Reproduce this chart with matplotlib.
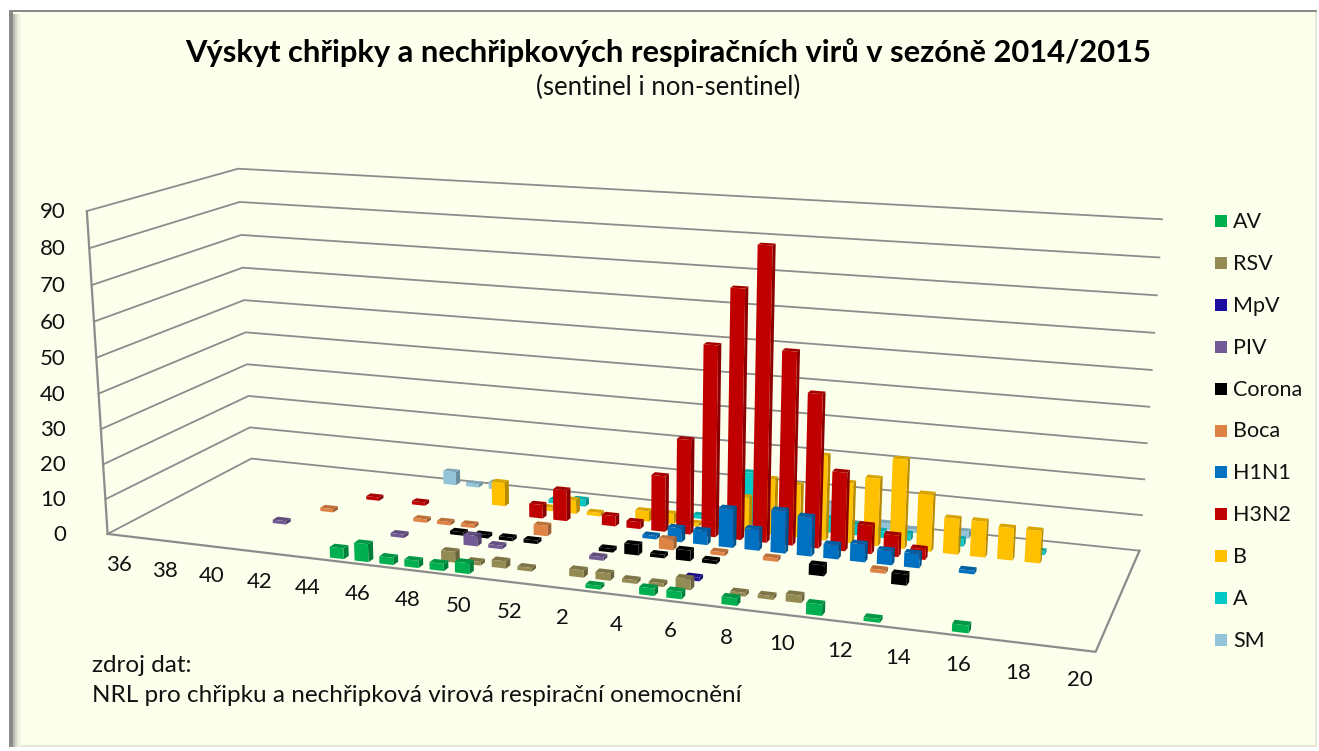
import numpy as np
import matplotlib
matplotlib.use('Agg')
import matplotlib.pyplot as plt
from matplotlib.patches import Rectangle

W, H = 1319, 751

week_labels = ['36', '38', '40', '42', '44', '46', '48', '50', '52', '2', '4', '6', '8', '10', '12', '14', '16', '18', '20']
z_ticks = [0, 10, 20, 30, 40, 50, 60, 70, 80, 90]
series_names = ['AV', 'RSV', 'MpV', 'PIV', 'Corona', 'Boca', 'H1N1', 'H3N2', 'B', 'A', 'SM']
series_colors = ['#00B050', '#948A54', '#1F0FA0', '#725A94', '#000000', '#DE8344', '#0070C0', '#C00000', '#FFC000', '#06C8C4', '#93C3D9']

# index of the week on the axis (0 = week 36, 17 = week 1) -> number of cases
av = {9: 3, 10: 5, 11: 2, 12: 2, 13: 2, 14: 3, 19: 1, 21: 2, 22: 2, 24: 2, 27: 3, 29: 1, 32: 2}
rsv = {13: 3, 14: 1, 15: 2, 16: 1, 18: 2, 19: 2, 20: 1, 21: 1, 22: 3, 24: 1, 25: 1, 26: 2}
mpv = {22: 1}
piv = {5: 1, 10: 1, 13: 3, 14: 1, 18: 1}
corona = {12: 1, 13: 1, 14: 1, 15: 1, 18: 1, 19: 3, 20: 1, 21: 3, 22: 1, 26: 3, 29: 3}
boca = {6: 1, 10: 1, 11: 1, 12: 1, 15: 3, 20: 3, 22: 1, 24: 1, 28: 1}
h1n1 = {19: 1, 20: 4, 21: 4, 22: 11, 23: 6, 24: 12, 25: 11, 26: 4, 27: 5, 28: 4, 29: 4, 31: 1}
h3n2 = {7: 1, 9: 1, 14: 4, 15: 9, 17: 3, 18: 2, 19: 16, 20: 27, 21: 54, 22: 70, 23: 82, 24: 54, 25: 43, 26: 22, 27: 8, 28: 6, 29: 3}
b = {12: 7, 14: 1, 15: 4, 16: 1, 18: 3, 19: 3, 20: 1, 21: 1, 22: 10, 23: 16, 24: 15, 25: 24, 26: 17, 27: 19, 28: 25, 29: 16, 30: 10, 31: 10, 32: 9, 33: 9}
a = {14: 1, 15: 2, 20: 1, 22: 15, 25: 4, 26: 3, 27: 2, 28: 2, 30: 2, 33: 1}
sm = {9: 4, 10: 1, 11: 2, 25: 6, 27: 2, 28: 1, 30: 2}
all_series = [av, rsv, mpv, piv, corona, boca, h1n1, h3n2, b, a, sm]

n_weeks = 37
n_series = 11
z_max = 90
BG = '#FBFFEB'
GRID = '#8C8C8C'


def fit_camera():
    # 3D box corners -> where they sit in the picture, in pixels
    pairs = [((0, 0, 0), (108, 533)), ((n_weeks, 0, 0), (1095, 654)),
             ((0, n_series, 0), (251, 460)), ((n_weeks, n_series, 0), (1140, 548)),
             ((0, 0, z_max), (87, 210)), ((0, n_series, z_max), (238, 169)),
             ((n_weeks, n_series, z_max), (1162, 220)), ((16.5, 0, 0), (510, 582))]
    rows = []
    for (x, y, z), (u, v) in pairs:
        rows.append([x, y, z, 1, 0, 0, 0, 0, -u * x, -u * y, -u * z, -u])
        rows.append([0, 0, 0, 0, x, y, z, 1, -v * x, -v * y, -v * z, -v])
    p = np.linalg.svd(np.array(rows, dtype=float))[2][-1].reshape(3, 4)
    if p[2, 3] < 0:
        p = -p
    return p / p[2, 3]


P = fit_camera()
M = np.array([P[0], P[1], [0, 1, 0, 1], P[2]])


def to_px(x, y, z):
    u, v, w = P @ np.array([x, y, z, 1.0])
    return u / w, v / w


def darker(color, f):
    r, g, b_ = matplotlib.colors.to_rgb(color)
    return (r * f, g * f, b_ * f)


def frame_rect(x0, y0, w, h, col, zorder=-1):
    fig.add_artist(Rectangle((x0 / W, 1 - (y0 + h) / H), w / W, h / H, transform=fig.transFigure, facecolor=col, edgecolor='none', zorder=zorder))


plt.rcParams['font.family'] = ['Lato', 'DejaVu Sans']

fig = plt.figure(figsize=(W / 100, H / 100), dpi=100, facecolor='white')

# frame
frame_rect(10, 10, 1307, 737, '#E4E6D6')
frame_rect(12, 12, 1303, 733, BG)
frame_rect(9, 10, 4, 737, '#8A8A88')
frame_rect(9, 10, 1308, 2, '#8A8A88')
for k, col in enumerate(['#B9BBAE', '#D5D8C8', '#E8EBDA', '#F3F6E4']):
    frame_rect(13 + 2 * k, 14, 2, 733, col)

ax = fig.add_axes([0, 0, 1, 1], projection='3d')
ax.patch.set_alpha(0)
ax.set_axis_off()
ax.computed_zorder = False
ax.set_proj_type('ortho')  # stops Line3D clipping to the -1..1 cube
ax.get_proj = lambda: M
ax.apply_aspect = lambda position=None: None

# walls
for z in z_ticks:
    ax.plot([0, 0, n_weeks], [0, n_series, n_series], [z, z, z], color=GRID, lw=1.3, zorder=1)
ax.plot([0, n_weeks, n_weeks], [0, 0, n_series], [0, 0, 0], color=GRID, lw=1.6, zorder=1)
ax.plot([0, 0], [0, 0], [0, z_max], color=GRID, lw=1.6, zorder=1)

# bars, from the back row forward
order = 10
for s in range(n_series - 1, -1, -1):
    col = series_colors[s]
    faces = ['none', darker(col, 0.85), col, 'none', 'none', darker(col, 0.72)]
    for i in sorted(all_series[s]):
        ax.bar3d(i + 0.24, s + 0.3, 0, 0.56, 0.4, all_series[s][i], color=faces, shade=False, zorder=order)
        order += 1

# the 2D side of the 3D axes works in picture pixels
ax.viewLim.set_points(np.array([[0.0, H], [W, 0.0]]))

# tick labels
for k, lab in enumerate(week_labels):
    u, v = to_px(2 * k + 0.5, 0, 0)
    fig.text(u / W, 1 - (v + 30) / H, lab, fontsize=16, color='#111111', ha='center', va='center')
for z in z_ticks:
    u, v = to_px(0, 0, z)
    fig.text(66 / W, 1 - (v + 1) / H, str(z), fontsize=16, color='#111111', ha='right', va='center')

fig.text(668 / W, 1 - 53 / H, 'Výskyt chřipky a nechřipkových respiračních virů v sezóně 2014/2015', fontsize=22.2, fontweight='bold', color='black', ha='center', va='center')
fig.text(668 / W, 1 - 87 / H, '(sentinel i non-sentinel)', fontsize=18.5, color='#111111', ha='center', va='center')
fig.text(92 / W, 1 - 665 / H, 'zdroj dat:', fontsize=17.5, color='#111111', ha='left', va='center')
fig.text(92 / W, 1 - 696 / H, 'NRL pro chřipku a nechřipková virová respirační onemocnění', fontsize=17.5, color='#111111', ha='left', va='center')

# legend
for s, name in enumerate(series_names):
    y = 221 + s * 41.9
    frame_rect(1215, y - 6, 12, 12, series_colors[s], zorder=3)
    fig.text(1233 / W, 1 - (y + 1) / H, name, fontsize=15.5, color='#111111', ha='left', va='center')

fig.savefig('out.png', dpi=100, facecolor='white')
